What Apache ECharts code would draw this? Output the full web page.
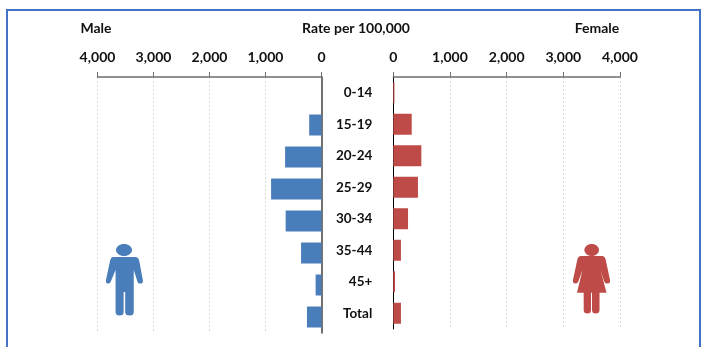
<!DOCTYPE html>
<html>
<head>
<meta charset="utf-8">
<style>html,body{margin:0;padding:0;background:#fff}#chart{width:705px;height:347px}</style>
<script src="https://cdn.jsdelivr.net/npm/echarts@6/dist/echarts.min.js"></script>
</head>
<body>
<div id="chart"></div>
<script>
// Age-specific rates per 100,000, by sex
const ageGroups = ['0-14', '15-19', '20-24', '25-29', '30-34', '35-44', '45+', 'Total'];
const maleRates = [0, 220, 650, 900, 640, 365, 105, 260];
const femaleRates = [20, 325, 495, 435, 260, 135, 30, 135];
const axisTicks = { min: 0, max: 4000, interval: 1000 };

const FONT = 'Lato';
const MALE = '#4A7EBB';
const FEMALE = '#BE4B48';

const manPath = 'M113 257 L135 257 Q138 257 139 261 L142.5 280 Q143 284 140 283.5 Q137.5 284 137 281 L133.5 270 ' +
  'L133.5 312 Q133.5 315.5 129.5 315.5 Q125 315.5 125 312 L125 292 L123.5 292 L123.5 312 Q123.5 315.5 119.5 315.5 ' +
  'Q115.5 315.5 115.5 312 L115.5 270 L111 281 Q110 284 108 283.5 Q105.5 283.5 106 280 L110 261 Q111 257 113 257 Z';
const womanPath = 'M581 256 L602 256 Q604.5 256 605.5 259 L610 280 Q610.5 283.5 607.5 283.5 Q605 284 604 281 L600.5 270 ' +
  'L606.5 292.8 L599.5 292.8 L599.5 310 Q599.5 313.5 595.5 313.5 Q592 313.5 592 310 L592 292.8 L591 292.8 L591 310 ' +
  'Q591 313.5 587.5 313.5 Q583.7 313.5 583.7 310 L583.7 292.8 L577 292.8 L582.5 270 L578.5 281 Q577.5 284 575.5 283.5 ' +
  'Q572.5 283.5 573 280 L577.5 259 Q578.5 256 581 256 Z';

function valueAxis(gridIndex, inverse) {
  return {
    type: 'value', gridIndex, inverse, position: 'top',
    min: axisTicks.min, max: axisTicks.max, interval: axisTicks.interval,
    axisLine: { show: true, lineStyle: { color: '#6e6e6e', width: 1.5 } },
    axisTick: { show: true, length: 5, lineStyle: { color: '#6e6e6e', width: 1 } },
    axisLabel: {
      show: true, margin: 13, color: '#111', fontFamily: FONT, fontWeight: 'bold', fontSize: 14,
      formatter: v => v.toLocaleString('en-US')
    },
    splitLine: { show: true, lineStyle: { color: '#d9d9d9', type: [2, 2], width: 1 } }
  };
}

function heading(text, x) {
  return {
    text, left: x, top: 21, padding: 0, textAlign: 'center',
    textStyle: { fontFamily: FONT, fontWeight: 'bold', fontSize: 14, color: '#111' }
  };
}

// One silhouette: a head ellipse over a body outline
function figure(headShape, bodyPath, box, color) {
  return {
    type: 'group',
    children: [
      { type: 'ellipse', shape: headShape, style: { fill: color } },
      { type: 'path', shape: Object.assign({ pathData: bodyPath, layout: 'cover' }, box), style: { fill: color } }
    ]
  };
}

const chart = echarts.init(document.getElementById('chart'), null, { renderer: 'canvas' });
chart.setOption({
  backgroundColor: '#fff',
  animation: false,
  title: [heading('Male', 96), heading('Rate per 100,000', 356), heading('Female', 597)],
  grid: [
    { left: 97.5, top: 77, width: 224, height: 256 },
    { left: 393.3, top: 77, width: 226.7, height: 252 }
  ],
  xAxis: [valueAxis(0, true), valueAxis(1, false)],
  yAxis: [
    {
      type: 'category', gridIndex: 0, data: ageGroups, inverse: true, position: 'right',
      axisLine: { show: true, onZero: false, lineStyle: { color: '#444', width: 1.5 } },
      axisTick: { show: false },
      axisLabel: { show: false }
    },
    {
      type: 'category', gridIndex: 1, data: ageGroups, inverse: true, position: 'left',
      axisLine: { show: true, onZero: false, lineStyle: { color: '#000', width: 1 } },
      axisTick: { show: false },
      axisLabel: {
        show: true, margin: 21, align: 'right', color: '#111',
        fontFamily: FONT, fontWeight: 'bold', fontSize: 13.5
      }
    }
  ],
  series: [
    { name: 'Male', type: 'bar', xAxisIndex: 0, yAxisIndex: 0, data: maleRates, barWidth: 21, itemStyle: { color: MALE } },
    { name: 'Female', type: 'bar', xAxisIndex: 1, yAxisIndex: 1, data: femaleRates, barWidth: 21, itemStyle: { color: FEMALE } },
    {
      type: 'custom', coordinateSystem: 'none', silent: true, z: 10, data: [0],
      renderItem: () => ({
        type: 'group',
        children: [
          figure({ cx: 124, cy: 250, rx: 8, ry: 6 }, manPath, { x: 105.9, y: 257, width: 37, height: 58.5 }, MALE),
          figure({ cx: 591.7, cy: 250, rx: 7.3, ry: 6 }, womanPath, { x: 572.9, y: 256, width: 37.2, height: 57.5 }, FEMALE)
        ]
      })
    }
  ],
  graphic: [
    // Panel frame; its lower edge runs past the bottom of the page
    { type: 'rect', silent: true, z: 10, shape: { x: 7, y: 10, width: 693, height: 400 },
      style: { fill: 'transparent', stroke: '#4472C4', lineWidth: 2 } }
  ]
});
</script>
</body>
</html>
